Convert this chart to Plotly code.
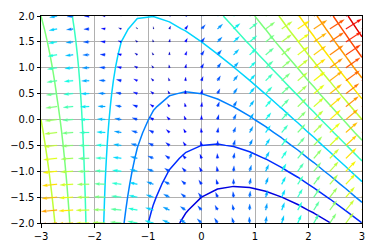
import numpy as np
import plotly.graph_objects as go

# grid (contour kinks every 0.3 in x, arrow rows every 0.25 in y)
x_vals = [-3.0, -2.7, -2.4, -2.1, -1.8, -1.5, -1.2, -0.9, -0.6, -0.3, 0.0,
          0.3, 0.6, 0.9, 1.2, 1.5, 1.8, 2.1, 2.4, 2.7, 3.0]
y_vals = [-2.0, -1.75, -1.5, -1.25, -1.0, -0.75, -0.5, -0.25, 0.0,
          0.25, 0.5, 0.75, 1.0, 1.25, 1.5, 1.75, 2.0]

# field values on the grid, one row per y value
Z = [
    [11.0, 8.69, 6.56, 4.61, 2.84, 1.25, -0.16, -1.39, -2.44, -3.31, -4.0, -4.51, -4.84, -4.99, -4.96, -4.75, -4.36, -3.79, -3.04, -2.11, -1.0],
    [10.75, 8.515, 6.46, 4.585, 2.89, 1.375, 0.04, -1.115, -2.09, -2.885, -3.5, -3.935, -4.19, -4.265, -4.16, -3.875, -3.41, -2.765, -1.94, -0.935, 0.25],
    [10.5, 8.34, 6.36, 4.56, 2.94, 1.5, 0.24, -0.84, -1.74, -2.46, -3.0, -3.36, -3.54, -3.54, -3.36, -3.0, -2.46, -1.74, -0.84, 0.24, 1.5],
    [10.25, 8.165, 6.26, 4.535, 2.99, 1.625, 0.44, -0.565, -1.39, -2.035, -2.5, -2.785, -2.89, -2.815, -2.56, -2.125, -1.51, -0.715, 0.26, 1.415, 2.75],
    [10.0, 7.99, 6.16, 4.51, 3.04, 1.75, 0.64, -0.29, -1.04, -1.61, -2.0, -2.21, -2.24, -2.09, -1.76, -1.25, -0.56, 0.31, 1.36, 2.59, 4.0],
    [9.75, 7.815, 6.06, 4.485, 3.09, 1.875, 0.84, -0.015, -0.69, -1.185, -1.5, -1.635, -1.59, -1.365, -0.96, -0.375, 0.39, 1.335, 2.46, 3.765, 5.25],
    [9.5, 7.64, 5.96, 4.46, 3.14, 2.0, 1.04, 0.26, -0.34, -0.76, -1.0, -1.06, -0.94, -0.64, -0.16, 0.5, 1.34, 2.36, 3.56, 4.94, 6.5],
    [9.25, 7.465, 5.86, 4.435, 3.19, 2.125, 1.24, 0.535, 0.01, -0.335, -0.5, -0.485, -0.29, 0.085, 0.64, 1.375, 2.29, 3.385, 4.66, 6.115, 7.75],
    [9.0, 7.29, 5.76, 4.41, 3.24, 2.25, 1.44, 0.81, 0.36, 0.09, 0.0, 0.09, 0.36, 0.81, 1.44, 2.25, 3.24, 4.41, 5.76, 7.29, 9.0],
    [8.75, 7.115, 5.66, 4.385, 3.29, 2.375, 1.64, 1.085, 0.71, 0.515, 0.5, 0.665, 1.01, 1.535, 2.24, 3.125, 4.19, 5.435, 6.86, 8.465, 10.25],
    [8.5, 6.94, 5.56, 4.36, 3.34, 2.5, 1.84, 1.36, 1.06, 0.94, 1.0, 1.24, 1.66, 2.26, 3.04, 4.0, 5.14, 6.46, 7.96, 9.64, 11.5],
    [8.25, 6.765, 5.46, 4.335, 3.39, 2.625, 2.04, 1.635, 1.41, 1.365, 1.5, 1.815, 2.31, 2.985, 3.84, 4.875, 6.09, 7.485, 9.06, 10.815, 12.75],
    [8.0, 6.59, 5.36, 4.31, 3.44, 2.75, 2.24, 1.91, 1.76, 1.79, 2.0, 2.39, 2.96, 3.71, 4.64, 5.75, 7.04, 8.51, 10.16, 11.99, 14.0],
    [7.75, 6.415, 5.26, 4.285, 3.49, 2.875, 2.44, 2.185, 2.11, 2.215, 2.5, 2.965, 3.61, 4.435, 5.44, 6.625, 7.99, 9.535, 11.26, 13.165, 15.25],
    [7.5, 6.24, 5.16, 4.26, 3.54, 3.0, 2.64, 2.46, 2.46, 2.64, 3.0, 3.54, 4.26, 5.16, 6.24, 7.5, 8.94, 10.56, 12.36, 14.34, 16.5],
    [7.25, 6.065, 5.06, 4.235, 3.59, 3.125, 2.84, 2.735, 2.81, 3.065, 3.5, 4.115, 4.91, 5.885, 7.04, 8.375, 9.89, 11.585, 13.46, 15.515, 17.75],
    [7.0, 5.89, 4.96, 4.21, 3.64, 3.25, 3.04, 3.01, 3.16, 3.49, 4.0, 4.69, 5.56, 6.61, 7.84, 9.25, 10.84, 12.61, 14.56, 16.69, 19.0],
]

contour_start = -5
contour_end = 19
contour_step = 2

x_ticks = [-3, -2, -1, 0, 1, 2, 3]
y_ticks = [-2.0, -1.5, -1.0, -0.5, 0.0, 0.5, 1.0, 1.5, 2.0]

# ---------- matplotlib "jet" colormap ----------
_R = [(0, 0), (0.35, 0), (0.66, 1), (0.89, 1), (1, 0.5)]
_G = [(0, 0), (0.125, 0), (0.375, 1), (0.64, 1), (0.91, 0), (1, 0)]
_B = [(0, 0.5), (0.11, 1), (0.34, 1), (0.65, 0), (1, 0)]


def _interp(seg, t):
    xs = [s[0] for s in seg]
    ys = [s[1] for s in seg]
    return float(np.interp(t, xs, ys))


def jet(t):
    t = min(max(t, 0.0), 1.0)
    r, g, b = (_interp(_R, t), _interp(_G, t), _interp(_B, t))
    return "rgb(%d,%d,%d)" % (round(r * 255), round(g * 255), round(b * 255))


jet_scale = [[i / 64, jet(i / 64)] for i in range(65)]

# ---------- geometry of plot area ----------
W, H = 375, 252
ml, mr, mt, mb = 40, 10, 11, 24
pw = W - ml - mr
ph = H - mt - mb
px_x = pw / (max(x_vals) - min(x_vals))
px_y = ph / (max(y_vals) - min(y_vals))

# ---------- quiver (gradient of Z) ----------
Za = np.array(Z, dtype=float)
dZdy, dZdx = np.gradient(Za, np.array(y_vals), np.array(x_vals), edge_order=2)
U = dZdx.ravel()
V = dZdy.ravel()
XX, YY = np.meshgrid(x_vals, y_vals)
XX = XX.ravel()
YY = YY.ravel()
mag = np.hypot(U, V)
Nq = mag.size
sn = max(10.0, np.sqrt(Nq))
len_px = mag / (1.8 * mag.mean() * sn) * pw
w_px = 0.06 / sn * pw
headwidth, headlength, headaxislength = 3.0, 5.0, 4.5
minsh = 1.0 * headlength
cn = (mag - mag.min()) / (mag.max() - mag.min())

groups = {}
ii = [0, 1, 2, 3, 2, 1, 0, 0]
for k in range(Nq):
    L = len_px[k] / w_px
    if L < minsh:
        xb = np.array([0, minsh - headaxislength, minsh - headlength, minsh])
        yb = 0.5 * np.array([1, 1, headwidth, 0])
        s = L / minsh
        Xp = s * xb[ii]
        Yp = s * yb[ii]
    else:
        xb = np.array([0, -headaxislength, -headlength, 0]) + np.array([0, 1, 1, 1]) * L
        yb = 0.5 * np.array([1, 1, headwidth, 0])
        Xp = xb[ii].astype(float)
        Yp = yb[ii].astype(float)
    Yp = Yp.copy()
    Yp[3:-1] *= -1
    if L < 1.0:
        th = np.arange(0, 8) * (np.pi / 3.0)
        Xp = np.cos(th) * 0.5
        Yp = np.sin(th) * 0.5
    ang = np.arctan2(V[k] * px_y, U[k] * px_x)
    ca, sa = np.cos(ang), np.sin(ang)
    xr = (Xp * ca - Yp * sa) * w_px
    yr = (Xp * sa + Yp * ca) * w_px
    gx = XX[k] + xr / px_x
    gy = YY[k] + yr / px_y
    key = int(round(cn[k] * 255))
    g = groups.setdefault(key, ([], []))
    g[0].extend(list(gx) + [None])
    g[1].extend(list(gy) + [None])

fig = go.Figure()
for key in sorted(groups):
    col = jet(key / 255)
    gx, gy = groups[key]
    fig.add_trace(go.Scatter(x=gx, y=gy, mode="lines", fill="toself",
                             fillcolor=col, line=dict(color=col, width=0.2),
                             hoverinfo="skip", showlegend=False))

fig.add_trace(go.Contour(
    x=x_vals, y=y_vals, z=Z,
    contours=dict(coloring="lines", start=contour_start, end=contour_end,
                  size=contour_step),
    colorscale=jet_scale, showscale=False,
    line=dict(width=1.5, smoothing=0),
    hoverinfo="skip",
))

axis_common = dict(
    showline=True, linecolor="black", linewidth=1, mirror=True,
    ticks="outside", ticklen=3.5, tickwidth=1, tickcolor="black",
    showgrid=True, gridcolor="#b0b0b0", gridwidth=0.8,
    zeroline=False, tickfont=dict(family="DejaVu Sans", size=10, color="black"),
)
fig.update_layout(
    width=W, height=H,
    margin=dict(l=ml, r=mr, t=mt, b=mb, pad=0),
    plot_bgcolor="white", paper_bgcolor="white",
    xaxis=dict(range=[-3, 3], tickvals=x_ticks, **axis_common),
    yaxis=dict(range=[-2, 2], tickvals=y_ticks, tickformat=".1f", **axis_common),
    showlegend=False,
)
fig.write_html("out.html")
